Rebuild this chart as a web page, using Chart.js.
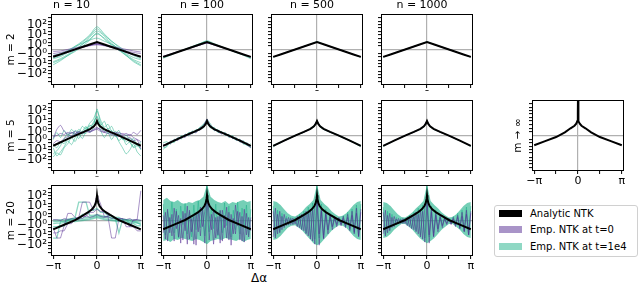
<!DOCTYPE html>
<html>
<head>
<meta charset="utf-8">
<script src="https://cdn.jsdelivr.net/npm/chart.js@4/dist/chart.umd.min.js"></script>
<style>
  body { margin: 0; width: 640px; height: 285px; background: #fff; position: relative; overflow: hidden; font-family: "DejaVu Sans", sans-serif; }
  #xlabel { position: absolute; left: 239px; top: 270px; width: 40px; line-height: 16px; text-align: center; font-size: 12px; }
  #legend { position: absolute; left: 494px; top: 205px; width: 142px; height: 50px; border: 1px solid #d0d0d0; border-radius: 3px; font-size: 10px; }
  #legend .row { position: absolute; left: 4px; height: 14px; line-height: 14px; white-space: nowrap; }
  #legend .sw { display: inline-block; width: 23px; height: 7px; margin-right: 8px; vertical-align: middle; position: relative; top: -1px; }
</style>
</head>
<body>
<div id="xlabel">Δα</div>
<div id="legend">
  <div class="row" style="top:1px"><span class="sw" style="background:#000"></span>Analytic NTK</div>
  <div class="row" style="top:17px"><span class="sw" style="background:rgba(83,41,145,0.5)"></span>Emp. NTK at t=0</div>
  <div class="row" style="top:34px"><span class="sw" style="background:rgba(31,177,137,0.5)"></span>Emp. NTK at t=1e4</div>
</div>
<script>
// x positions in units of pi, y values in symlog decades (0 = zero line)
const g13 = [-1, -0.833, -0.667, -0.5, -0.333, -0.167, 0, 0.167, 0.333, 0.5, 0.667, 0.833, 1];
const g25 = [-1, -0.917, -0.833, -0.75, -0.667, -0.583, -0.5, -0.417, -0.333, -0.25, -0.167, -0.083, 0,
  0.083, 0.167, 0.25, 0.333, 0.417, 0.5, 0.583, 0.667, 0.75, 0.833, 0.917, 1];
const g41 = [-1, -0.95, -0.9, -0.85, -0.8, -0.75, -0.7, -0.65, -0.6, -0.55, -0.5, -0.45, -0.4, -0.35, -0.3,
  -0.25, -0.2, -0.15, -0.1, -0.05, 0, 0.05, 0.1, 0.15, 0.2, 0.25, 0.3, 0.35, 0.4, 0.45, 0.5, 0.55, 0.6,
  0.65, 0.7, 0.75, 0.8, 0.85, 0.9, 0.95, 1];

const colTitles = ['n = 10', 'n = 100', 'n = 500', 'n = 1000'];
const rowTitles = ['m = 2', 'm = 5', 'm = 20'];
const sideTitle = 'm → ∞';

const yTickValues = [-3.1, -2.7, -2.4, -2.1, -1.7, -1.4, -1.1, -0.7, -0.4, 0, 0.4, 0.7, 1.1, 1.4, 1.7, 2.1, 2.4, 2.7, 3.1];
const yTickLabels = ['', '', '−10²', '', '', '−10¹', '', '', '−10⁰', '', '10⁰', '', '', '10¹', '', '', '10²', '', ''];
const xTickValues = [-Math.PI, -Math.PI / 2, 0, Math.PI / 2, Math.PI];
const xTickLabels = ['−π', '', '0', '', 'π'];

// analytic NTK
const analyticX_m2 = g13;
const analytic_m2 = [-0.72, -0.48, -0.24, 0, 0.24, 0.48, 0.72, 0.48, 0.24, 0, -0.24, -0.48, -0.72];
const analyticX_m5 = [-1, -0.75, -0.5, -0.3, -0.15, -0.07, -0.03, 0, 0.03, 0.07, 0.15, 0.3, 0.5, 0.75, 1];
const analytic_m5 = [-1.0, -0.5, -0.02, 0.35, 0.65, 0.9, 1.12, 1.41, 1.12, 0.9, 0.65, 0.35, -0.02, -0.5, -1.0];
const analyticX_m20 = [-1, -0.75, -0.5, -0.3, -0.2, -0.12, -0.06, -0.03, -0.01, 0, 0.01, 0.03, 0.06, 0.12, 0.2, 0.3, 0.5, 0.75, 1];
const analytic_m20 = [-0.85, -0.4, 0.05, 0.55, 0.82, 1.08, 1.4, 1.7, 2.1, 2.45, 2.1, 1.7, 1.4, 1.08, 0.82, 0.55, 0.05, -0.4, -0.85];
const analyticX_inf = [-1, -0.75, -0.5, -0.3, -0.17, -0.08, -0.04, -0.015, -0.004, 0, 0.004, 0.015, 0.04, 0.08, 0.17, 0.3, 0.5, 0.75, 1];
const analytic_inf = [-0.95, -0.55, -0.15, 0.3, 0.7, 0.95, 1.15, 1.4, 2.2, 4.0, 2.2, 1.4, 1.15, 0.95, 0.7, 0.3, -0.15, -0.55, -0.95];

// m = 2 (grid g13)
const m2n10Teal = [
  [-1.5, -1.1, -0.6, -0.1, 0.5, 1.2, 1.8, 1.3, 0.6, 0.0, -0.6, -1.2, -1.6],
  [-1.2, -0.9, -0.5, 0.0, 0.5, 1.0, 1.5, 1.1, 0.5, 0.0, -0.5, -1.0, -1.3],
  [-0.9, -0.7, -0.3, 0.2, 0.7, 1.3, 2.0, 1.4, 0.8, 0.2, -0.4, -0.8, -1.0],
  [-0.6, -0.4, -0.1, 0.3, 0.6, 0.9, 1.1, 0.8, 0.5, 0.1, -0.2, -0.5, -0.7],
  [-1.3, -1.0, -0.6, -0.2, 0.3, 0.9, 1.6, 1.0, 0.4, -0.1, -0.6, -1.1, -1.5],
  [-0.8, -0.6, -0.2, 0.3, 0.8, 1.4, 2.2, 1.5, 0.8, 0.3, -0.2, -0.6, -0.9]
];
const m2n10Purple = [
  [-0.4, -0.3, -0.15, 0.05, 0.2, 0.35, 0.45, 0.35, 0.2, 0.05, -0.15, -0.3, -0.4],
  [-0.6, -0.45, -0.2, 0.0, 0.25, 0.45, 0.6, 0.45, 0.25, 0.0, -0.25, -0.5, -0.7],
  [-0.2, -0.15, 0.0, 0.15, 0.3, 0.4, 0.5, 0.4, 0.3, 0.15, 0.0, -0.15, -0.25],
  [-0.7, -0.5, -0.3, -0.05, 0.2, 0.4, 0.55, 0.4, 0.2, -0.05, -0.3, -0.55, -0.75]
];
const m2n100Teal = [
  [-0.85, -0.55, -0.25, 0.0, 0.28, 0.55, 0.85, 0.56, 0.27, 0.0, -0.28, -0.57, -0.9],
  [-0.78, -0.5, -0.22, 0.03, 0.3, 0.57, 0.8, 0.5, 0.25, -0.02, -0.3, -0.52, -0.82]
];
const m2n100Purple = [
  [-0.66, -0.44, -0.21, 0.0, 0.22, 0.43, 0.64, 0.42, 0.2, -0.02, -0.25, -0.5, -0.75],
  [-0.68, -0.45, -0.23, -0.02, 0.2, 0.42, 0.6, 0.45, 0.23, 0.0, -0.24, -0.48, -0.7]
];
const m2n500Teal = [[-0.76, -0.49, -0.24, 0.0, 0.25, 0.49, 0.75, 0.49, 0.24, 0.0, -0.25, -0.49, -0.76]];
const m2n500Purple = [[-0.71, -0.47, -0.23, 0.01, 0.24, 0.47, 0.71, 0.47, 0.23, 0.0, -0.23, -0.47, -0.72]];
const m2n1000Teal = [[-0.75, -0.49, -0.24, 0.01, 0.25, 0.48, 0.74, 0.49, 0.24, 0.0, -0.25, -0.49, -0.75]];
const m2n1000Purple = [[-0.72, -0.48, -0.23, 0.0, 0.23, 0.47, 0.71, 0.47, 0.24, 0.01, -0.24, -0.48, -0.72]];

// m = 5 (grid g25)
const m5n10Teal = [
  [-1.8, -1.5, -1.0, -0.3, 0.2, -0.2, 0.5, 0.3, 0.9, 0.6, 1.2, 1.6, 2.4, 1.5, 0.8, 1.1, 0.4, 0.1, -0.5, -0.2, -0.9, -0.6, -1.2, -1.0, -1.3],
  [-1.2, -2.0, -1.6, -1.1, -0.5, -0.9, -0.2, 0.4, 0.1, 0.8, 0.5, 1.3, 1.8, 1.0, 1.4, 0.6, 0.9, 0.2, 0.5, -0.3, 0.1, -0.5, -0.3, -0.9, -0.6],
  [-0.4, 0.3, -0.2, 0.5, 0.0, 0.6, 0.2, -0.3, 0.4, 0.9, 0.3, 0.7, 1.5, 0.5, -0.2, 0.3, -0.4, 0.1, -0.6, -1.2, -1.8, -1.4, -0.8, -1.6, -2.0],
  [-2.1, -1.7, -1.9, -1.2, -0.8, -0.2, -0.6, 0.1, -0.3, 0.5, 1.0, 0.8, 2.6, 1.2, 0.7, 0.2, 0.5, -0.1, 0.2, -0.4, -0.2, -0.7, -1.1, -0.8, -1.4],
  [-0.9, -1.2, -0.6, -0.8, -0.2, 0.3, 0.1, 0.6, 0.3, 0.2, 0.9, 1.1, 1.9, 0.9, 0.4, 0.7, 0.0, 0.4, 0.1, -0.2, -0.6, -0.3, -0.5, -1.0, -0.7]
];
const m5n10Purple = [
  [-0.3, 0.6, 1.0, 0.4, 0.1, 0.3, 0.2, 0.4, 0.3, 0.5, 0.4, 0.6, 0.8, 0.5, 0.3, 0.4, 0.2, 0.3, 0.1, 0.2, 0.0, 0.1, -0.2, -0.4, -1.3],
  [-0.1, 0.0, 0.2, 0.1, 0.3, 0.2, 0.4, 0.2, 0.3, 0.5, 0.4, 0.5, 0.7, 0.6, 0.4, 0.5, 0.3, 0.2, 0.3, 0.1, 0.2, 0.0, 0.3, 0.1, 0.5],
  [-0.8, -0.5, -0.6, -0.3, -0.1, 0.0, 0.1, 0.3, 0.2, 0.4, 0.3, 0.5, 0.6, 0.4, 0.3, 0.2, 0.1, 0.0, -0.1, 0.0, -0.3, -0.2, -0.5, -0.4, -0.6]
];
const m5n100Teal = [
  [-1.35, -1.0, -0.6, -0.7, -0.2, -0.35, 0.15, -0.05, 0.45, 0.3, 0.8, 1.05, 1.6, 1.1, 0.45, 0.6, 0.15, 0.3, -0.2, 0.0, -0.45, -0.35, -0.85, -0.7, -1.2],
  [-0.7, -0.6, -0.85, -0.35, -0.45, 0.0, -0.15, 0.3, 0.15, 0.6, 0.5, 1.1, 1.2, 0.7, 0.8, 0.3, 0.4, 0.0, 0.1, -0.3, -0.2, -0.65, -0.5, -1.0, -0.8],
  [-1.2, -1.1, -0.55, -0.6, -0.3, -0.1, -0.1, 0.25, 0.35, 0.35, 0.75, 0.7, 1.3, 0.95, 0.7, 0.3, 0.35, 0.05, 0.1, -0.25, -0.45, -0.4, -0.8, -0.95, -1.15]
];
const m5n100Purple = [
  [-1.1, -0.75, -0.8, -0.4, -0.5, -0.1, -0.2, 0.2, 0.35, 0.25, 0.7, 0.95, 1.6, 0.8, 0.7, 0.35, 0.15, 0.25, -0.15, -0.1, -0.45, -0.4, -0.6, -0.95, -1.2],
  [-0.85, -0.95, -0.55, -0.55, -0.25, -0.25, 0.1, 0.05, 0.2, 0.5, 0.5, 0.8, 1.3, 1.0, 0.5, 0.5, 0.3, 0.05, 0.05, -0.3, -0.25, -0.6, -0.75, -0.75, -1.05]
];
const m5n500Teal = [
  [-1.12, -0.85, -0.72, -0.5, -0.38, -0.16, -0.05, 0.16, 0.24, 0.47, 0.6, 0.78, 1.45, 0.76, 0.55, 0.4, 0.24, 0.12, -0.05, -0.22, -0.35, -0.55, -0.67, -0.9, -1.1],
  [-0.95, -0.82, -0.62, -0.48, -0.3, -0.2, 0.02, 0.11, 0.3, 0.41, 0.64, 0.9, 1.36, 0.9, 0.63, 0.45, 0.3, 0.16, 0.02, -0.15, -0.3, -0.47, -0.64, -0.8, -0.96]
];
const m5n500Purple = [
  [-1.02, -0.86, -0.68, -0.52, -0.35, -0.19, -0.04, 0.12, 0.27, 0.42, 0.58, 0.83, 1.45, 0.83, 0.58, 0.42, 0.27, 0.12, -0.03, -0.18, -0.34, -0.5, -0.67, -0.85, -1.03]
];
const m5n1000Teal = [
  [-1.08, -0.83, -0.7, -0.5, -0.33, -0.18, -0.02, 0.14, 0.28, 0.43, 0.58, 0.8, 1.4, 0.8, 0.56, 0.42, 0.27, 0.13, -0.02, -0.18, -0.36, -0.5, -0.68, -0.86, -1.08]
];
const m5n1000Purple = [
  [-0.98, -0.85, -0.66, -0.49, -0.35, -0.17, -0.03, 0.12, 0.26, 0.44, 0.6, 0.86, 1.43, 0.85, 0.6, 0.43, 0.26, 0.13, -0.03, -0.17, -0.33, -0.5, -0.68, -0.83, -1.0]
];

// m = 20, n = 10 (grid g25)
const m20n10Teal = [
  [0.05, 0.05, 0.1, 0.1, 0.15, 0.15, 0.2, 0.2, 0.25, 0.3, 0.35, 0.4, 0.5, 0.4, 0.35, 0.3, 0.25, 0.2, 0.15, 0.15, 0.1, 0.1, 0.05, 0.05, 0.05],
  [-0.3, -0.25, -0.25, -0.2, -0.15, -0.1, -0.1, -0.05, 0.0, 0.05, 0.1, 0.2, 0.3, 0.2, 0.1, 0.05, 0.0, -0.05, -0.1, -0.1, -0.15, -0.2, -0.2, -0.25, -0.3],
  [-0.1, -0.1, -0.05, -0.05, 0.0, 0.05, 0.05, 0.1, 0.1, 0.15, 0.2, 0.3, 0.4, 0.3, 0.2, 0.15, 0.1, 0.05, 0.05, 0.0, -0.05, -0.05, -0.1, -0.1, -0.15],
  [-1.7, -1.7, -0.1, -0.1, 0.0, 0.2, 0.3, 1.8, 1.8, 1.8, 0.5, 0.5, 0.6, 0.5, 0.4, 0.4, 0.3, 0.2, -1.2, 0.1, 0.1, 0.0, -0.1, -0.2, -0.4],
  [-0.6, -0.6, -0.5, -0.5, 0.1, 0.1, 0.2, 0.2, 0.6, 0.6, 1.0, 1.0, 1.2, 0.8, 0.8, 0.5, 0.5, 0.3, 0.3, 0.1, 0.1, -0.3, -0.3, -0.5, -0.5]
];
const m20n10Purple = [
  [-0.7, -1.7, -1.7, -0.5, 0.7, 0.7, 0.3, 0.3, 1.8, 1.8, 1.8, 1.0, 2.5, 1.6, 0.4, 0.4, -1.7, -1.7, 0.2, 0.2, -0.6, -0.6, 0.1, 0.1, 2.9],
  [0.1, 0.1, 0.0, 0.2, 0.1, 0.2, 0.1, 0.3, 0.2, 0.5, 0.3, 0.4, 0.6, 0.4, 0.3, 0.4, 0.2, 0.3, 0.1, 0.2, 0.1, 0.2, 0.0, 0.1, 0.0],
  [-1.2, -1.2, -1.0, -1.0, -0.3, -0.3, 0.1, 0.1, 0.4, 0.4, 0.8, 0.8, 1.1, 0.9, 0.9, 0.5, 0.5, 0.2, 0.2, -0.2, -0.2, -0.6, -0.6, -1.0, -1.0]
];

// m = 20, n >= 100: spread of the empirical kernels (grid g25) and single traces (grid g41)
const m20n100Upper = [2.0, 2.2, 1.9, 1.8, 2.0, 1.7, 1.6, 1.8, 1.7, 1.9, 2.0, 2.3, 3.5, 2.3, 2.0, 1.8, 1.7, 1.9, 1.6, 1.8, 1.7, 1.9, 2.0, 1.8, 1.9];
const m20n100Lower = [-2.0, -1.9, -2.1, -1.8, -1.9, -1.7, -1.8, -1.9, -2.0, -1.8, -1.9, -2.1, -2.3, -2.0, -1.9, -1.8, -1.9, -1.7, -1.8, -1.9, -2.0, -1.8, -2.1, -1.9, -1.8];
const m20n100Purple = [
  [-1.2, 0.8, -2.0, 0.3, -1.5, 1.2, -0.8, 0.5, -2.2, 0.9, -1.0, 1.4, -1.8, 0.2, -2.3, 0.7, -1.1, 1.3, -0.6, 0.9,
    2.6, 0.5, -0.9, 1.1, -1.7, 0.4, -2.2, 1.0, -0.7, 1.3, -1.9, 0.6, -1.3, 1.5, -0.5, 0.8, -2.0, 1.1, -1.4, 0.3, -1.0],
  [0.5, -1.8, 1.1, -1.2, 0.6, -2.0, 0.9, -1.6, 0.2, -1.9, 0.7, -2.3, 1.0, -1.1, 0.4, -2.4, 0.8, -1.5, 1.2, -2.2,
    2.0, -1.9, 0.6, -2.3, 0.3, -1.4, 1.0, -2.0, 0.5, -1.7, 0.8, -2.4, 0.2, -1.3, 0.9, -1.9, 0.4, -2.1, 0.7, -1.6, 0.3]
];
const m20n100Teal = [
  [1.6, -1.4, 0.9, -0.6, 1.8, -1.2, 1.1, -1.7, 1.4, -0.4, 1.7, -1.3, 0.8, -1.6, 1.5, -0.9, 1.9, -0.7, 1.2, -1.5,
    3.4, -1.1, 1.3, -0.8, 1.6, -1.5, 0.9, -1.2, 1.7, -0.5, 1.4, -1.6, 1.0, -0.9, 1.8, -1.3, 1.2, -0.7, 1.5, -1.4, 1.1]
];

const m20n500Upper = [1.9, 1.8, 1.5, 1.1, 0.7, 0.45, 0.4, 0.6, 0.9, 1.3, 1.6, 2.0, 3.5, 2.0, 1.6, 1.3, 0.9, 0.6, 0.4, 0.45, 0.7, 1.1, 1.5, 1.8, 1.9];
const m20n500Lower = [-1.9, -1.8, -1.5, -1.1, -0.7, -0.5, -0.45, -0.7, -1.0, -1.4, -1.8, -2.2, -2.4, -2.2, -1.8, -1.4, -1.0, -0.7, -0.45, -0.5, -0.7, -1.1, -1.5, -1.8, -1.9];
const m20n500Purple = [
  [-1.6, 1.2, -1.3, 0.9, -0.9, 0.6, -0.5, 0.3, -0.4, 0.25, -0.35, 0.4, -0.7, 0.6, -1.0, 0.9, -1.5, 1.1, -2.0, 1.5,
    2.2, -1.3, 1.2, -1.8, 0.8, -0.9, 0.5, -0.6, 0.3, -0.4, 0.3, -0.5, 0.4, -0.7, 0.6, -1.0, 0.9, -1.3, 1.2, -1.6, 1.1],
  [0.9, -1.7, 0.6, -1.2, 0.4, -0.7, 0.2, -0.45, 0.2, -0.4, 0.15, -0.6, 0.3, -0.9, 0.5, -1.3, 0.7, -1.8, 1.0, -2.3,
    1.8, -2.4, 0.9, -1.7, 0.6, -1.3, 0.4, -0.9, 0.3, -0.6, 0.2, -0.4, 0.2, -0.5, 0.3, -0.8, 0.5, -1.1, 0.7, -1.5, 0.8]
];
const m20n500Teal = [
  [1.4, -1.5, 1.0, -1.1, 0.7, -0.6, 0.4, -0.4, 0.3, -0.3, 0.3, -0.5, 0.6, -0.8, 0.9, -1.2, 1.3, -1.6, 1.7, -1.8,
    3.4, -1.7, 1.6, -1.4, 1.1, -0.9, 0.7, -0.6, 0.4, -0.3, 0.25, -0.35, 0.45, -0.6, 0.8, -0.9, 1.1, -1.2, 1.5, -1.4, 1.6]
];

const m20n1000Upper = [1.8, 1.7, 1.4, 1.0, 0.6, 0.35, 0.3, 0.5, 0.8, 1.2, 1.5, 1.9, 3.5, 1.9, 1.5, 1.2, 0.8, 0.5, 0.3, 0.35, 0.6, 1.0, 1.4, 1.7, 1.8];
const m20n1000Lower = [-1.7, -1.6, -1.3, -0.9, -0.6, -0.35, -0.35, -0.6, -0.9, -1.3, -1.7, -2.0, -2.2, -2.0, -1.7, -1.3, -0.9, -0.6, -0.35, -0.35, -0.6, -0.9, -1.3, -1.6, -1.7];
const m20n1000Purple = [
  [-1.3, 1.0, -1.2, 0.7, -0.7, 0.4, -0.4, 0.2, -0.3, 0.2, -0.3, 0.3, -0.6, 0.5, -0.9, 0.8, -1.3, 1.0, -1.8, 1.3,
    2.0, -1.4, 1.1, -1.6, 0.7, -0.8, 0.4, -0.5, 0.2, -0.3, 0.2, -0.4, 0.3, -0.6, 0.5, -0.8, 0.8, -1.1, 1.0, -1.4, 0.9],
  [0.8, -1.5, 0.5, -1.0, 0.3, -0.6, 0.15, -0.35, 0.1, -0.3, 0.1, -0.5, 0.3, -0.8, 0.4, -1.1, 0.6, -1.6, 0.9, -2.1,
    1.6, -2.2, 0.8, -1.5, 0.5, -1.1, 0.3, -0.7, 0.2, -0.4, 0.1, -0.3, 0.15, -0.45, 0.3, -0.7, 0.4, -1.0, 0.6, -1.4, 0.7]
];
const m20n1000Teal = [
  [1.3, -1.3, 0.9, -0.9, 0.6, -0.5, 0.3, -0.3, 0.2, -0.25, 0.25, -0.4, 0.5, -0.7, 0.8, -1.0, 1.2, -1.4, 1.5, -1.7,
    3.4, -1.6, 1.4, -1.2, 1.0, -0.8, 0.6, -0.5, 0.3, -0.25, 0.2, -0.3, 0.4, -0.5, 0.7, -0.8, 1.0, -1.1, 1.3, -1.3, 1.4]
];

const BLACK = '#000';
const PURPLE = 'rgba(83,41,145,0.5)';
const TEAL = 'rgba(31,177,137,0.5)';
const TEAL_FILL = 'rgba(31,177,137,0.62)';
const ZERO_GRAY = '#b0b0b0';

const colLeft = [51, 161, 271, 381];
const rowTop = [14, 100, 185];
const FRAME_W = 92, FRAME_H = 71;
const Y_RANGE = 3.45;

Chart.defaults.font.family = 'DejaVu Sans';
Chart.defaults.color = '#000';

function pts(grid, vals) {
  return vals.map((v, i) => ({ x: grid[i] * Math.PI, y: v }));
}
function line(grid, vals, color, width, tension) {
  return { data: pts(grid, vals), borderColor: color, borderWidth: width, pointRadius: 0, tension: tension, fill: false };
}

const framePlugin = {
  id: 'frame',
  afterDatasetsDraw(chart) {
    const a = chart.chartArea, ctx = chart.ctx;
    ctx.save();
    ctx.strokeStyle = '#000';
    ctx.lineWidth = 1;
    ctx.strokeRect(Math.round(a.left) + 0.5, Math.round(a.top) + 0.5, Math.round(a.right - a.left) - 1, Math.round(a.bottom - a.top) - 1);
    ctx.restore();
  }
};

const panels = [
  { row: 0, col: 0, ax: analyticX_m2, ay: analytic_m2, grid: g13, teal: m2n10Teal, purple: m2n10Purple, tension: 0.3 },
  { row: 0, col: 1, ax: analyticX_m2, ay: analytic_m2, grid: g13, teal: m2n100Teal, purple: m2n100Purple, tension: 0.3 },
  { row: 0, col: 2, ax: analyticX_m2, ay: analytic_m2, grid: g13, teal: m2n500Teal, purple: m2n500Purple, tension: 0.3 },
  { row: 0, col: 3, ax: analyticX_m2, ay: analytic_m2, grid: g13, teal: m2n1000Teal, purple: m2n1000Purple, tension: 0.3 },
  { row: 1, col: 0, ax: analyticX_m5, ay: analytic_m5, grid: g25, teal: m5n10Teal, purple: m5n10Purple, tension: 0.2 },
  { row: 1, col: 1, ax: analyticX_m5, ay: analytic_m5, grid: g25, teal: m5n100Teal, purple: m5n100Purple, tension: 0 },
  { row: 1, col: 2, ax: analyticX_m5, ay: analytic_m5, grid: g25, teal: m5n500Teal, purple: m5n500Purple, tension: 0 },
  { row: 1, col: 3, ax: analyticX_m5, ay: analytic_m5, grid: g25, teal: m5n1000Teal, purple: m5n1000Purple, tension: 0 },
  { row: 2, col: 0, ax: analyticX_m20, ay: analytic_m20, grid: g25, teal: m20n10Teal, purple: m20n10Purple, tension: 0 },
  { row: 2, col: 1, ax: analyticX_m20, ay: analytic_m20, grid: g41, teal: m20n100Teal, purple: m20n100Purple, band: [m20n100Upper, m20n100Lower], tension: 0 },
  { row: 2, col: 2, ax: analyticX_m20, ay: analytic_m20, grid: g41, teal: m20n500Teal, purple: m20n500Purple, band: [m20n500Upper, m20n500Lower], tension: 0 },
  { row: 2, col: 3, ax: analyticX_m20, ay: analytic_m20, grid: g41, teal: m20n1000Teal, purple: m20n1000Purple, band: [m20n1000Upper, m20n1000Lower], tension: 0 },
  { side: true, row: 1, col: 4, ax: analyticX_inf, ay: analytic_inf, grid: g13, teal: [], purple: [], tension: 0 }
];

panels.forEach(p => {
  const bottom = p.row === 2 || p.side;
  const first = p.col === 0;
  const yw = p.side ? 22 : (first ? 51 : 10);
  const padTop = (p.row === 0 && !p.side) ? 15 : 8;
  const xh = bottom ? 22 : 6;
  const padBottom = bottom ? 0 : 2;
  const padRight = 4;
  const frameLeft = p.side ? 532 : colLeft[p.col];
  const frameTop = rowTop[p.row];
  const w = yw + FRAME_W + padRight, h = padTop + FRAME_H + xh + padBottom;

  const canvas = document.createElement('canvas');
  canvas.width = w;
  canvas.height = h;
  canvas.style.cssText = `position:absolute;left:${frameLeft - yw}px;top:${frameTop - padTop}px;width:${w}px;height:${h}px`;
  document.body.appendChild(canvas);

  const datasets = [line(p.ax, p.ay, BLACK, 2, 0)];
  p.purple.forEach(v => datasets.push(line(p.grid, v, PURPLE, 1, p.tension)));
  p.teal.forEach(v => datasets.push(line(p.grid, v, TEAL, p.row === 2 && !p.band ? 1.3 : 1, p.tension)));
  if (p.band) {
    datasets.push({ data: pts(g25, p.band[0]), borderWidth: 0, pointRadius: 0, fill: false });
    datasets.push({ data: pts(g25, p.band[1]), borderWidth: 0, pointRadius: 0, fill: '-1', backgroundColor: TEAL_FILL });
  }

  const yLabel = p.side ? sideTitle : (first ? rowTitles[p.row] : '');

  new Chart(canvas.getContext('2d'), {
    type: 'line',
    data: { datasets: datasets },
    options: {
      responsive: false,
      animation: false,
      devicePixelRatio: 1,
      events: [],
      layout: { padding: { left: 0, right: padRight, top: (p.row === 0 && !p.side) ? 0 : padTop, bottom: padBottom } },
      plugins: {
        legend: { display: false },
        tooltip: { enabled: false },
        title: {
          display: p.row === 0 && !p.side,
          text: p.side ? '' : colTitles[p.col],
          font: { size: 11, weight: 'normal', lineHeight: '13px' },
          padding: { top: 0, bottom: 2 }
        }
      },
      scales: {
        x: {
          type: 'linear',
          min: -Math.PI * 1.05,
          max: Math.PI * 1.05,
          afterBuildTicks: s => { s.ticks = xTickValues.map(v => ({ value: v })); },
          afterFit: s => { s.height = xh; },
          border: { display: false },
          grid: {
            color: c => (c.tick && c.tick.value === 0) ? ZERO_GRAY : 'rgba(0,0,0,0)',
            lineWidth: 1.2,
            tickColor: '#000',
            tickLength: 3,
            tickWidth: 1
          },
          ticks: {
            display: bottom,
            autoSkip: false,
            maxRotation: 0,
            minRotation: 0,
            padding: 1,
            font: { size: 11 },
            callback: (v, i) => xTickLabels[i]
          }
        },
        y: {
          type: 'linear',
          min: -Y_RANGE,
          max: Y_RANGE,
          afterBuildTicks: s => { s.ticks = yTickValues.map(v => ({ value: v })); },
          afterFit: s => { s.width = yw; },
          border: { display: false },
          title: {
            display: yLabel !== '',
            text: yLabel,
            font: { size: 10.5 },
            padding: { top: p.side ? 2 : 5, bottom: 0 }
          },
          grid: {
            color: c => (c.tick && c.tick.value === 0) ? ZERO_GRAY : 'rgba(0,0,0,0)',
            lineWidth: 1.2,
            tickColor: c => (c.tick && c.tick.value === 0) ? 'rgba(0,0,0,0)' : '#000',
            tickLength: 3,
            tickWidth: 1
          },
          ticks: {
            display: first && !p.side,
            autoSkip: false,
            padding: 1,
            font: { size: 12 },
            callback: (v, i) => yTickLabels[i]
          }
        }
      }
    },
    plugins: [framePlugin]
  });
});
</script>
</body>
</html>
